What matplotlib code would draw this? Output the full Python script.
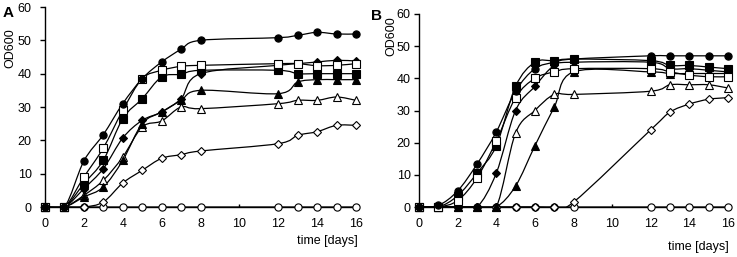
import numpy as np
import matplotlib
matplotlib.use("Agg")
import matplotlib.pyplot as plt
from matplotlib.path import Path
from matplotlib.patches import PathPatch

plt.rcParams['font.family'] = ['Liberation Sans', 'DejaVu Sans']

days = [0, 1, 2, 3, 4, 5, 6, 7, 8, 12, 13, 14, 15, 16]

# Panel A
A_filled_circle   = [0, 0, 13.8, 21.7, 31.0, 38.5, 43.5, 47.3, 50.0, 50.8, 51.5, 52.4, 51.9, 51.9]
A_open_square     = [0, 0, 9.0, 17.7, 29.0, 38.5, 41.0, 42.2, 42.5, 43.0, 43.0, 42.4, 42.5, 43.0]
A_filled_square   = [0, 0, 7.0, 14.0, 26.5, 32.5, 39.0, 39.8, 41.0, 41.0, 40.0, 40.0, 40.0, 40.0]
A_filled_diamond  = [0, 0, 5.5, 11.5, 20.7, 26.0, 28.5, 32.5, 40.0, 42.5, 43.0, 43.5, 44.0, 43.8]
A_filled_triangle = [0, 0, 3.0, 6.0, 14.0, 25.0, 28.5, 32.0, 35.0, 34.0, 37.5, 38.2, 38.2, 38.2]
A_open_triangle   = [0, 0, 3.5, 8.0, 15.0, 24.0, 25.8, 30.0, 29.5, 31.0, 32.0, 32.0, 33.0, 32.0]
A_open_diamond    = [0, 0, 0.0, 1.5, 7.2, 11.0, 14.6, 15.7, 16.8, 19.0, 21.5, 22.6, 24.5, 24.5]
A_open_circle     = [0, 0, 0, 0, 0, 0, 0, 0, 0, 0, 0, 0, 0, 0]

# Panel B
B_filled_circle   = [0, 0.5, 5.0, 13.3, 23.3, 36.0, 43.0, 45.0, 46.0, 47.0, 47.0, 47.0, 47.0, 47.0]
B_open_square     = [0, 0, 2.0, 9.0, 20.5, 34.0, 40.0, 42.0, 43.0, 43.0, 42.0, 41.0, 40.5, 40.5]
B_filled_square   = [0, 0, 3.5, 10.5, 19.0, 37.5, 45.0, 45.5, 46.0, 45.5, 44.0, 44.0, 43.5, 43.0]
B_filled_diamond  = [0, 0, 0, 0, 10.5, 30.0, 37.5, 44.0, 45.0, 45.0, 43.0, 43.0, 42.5, 42.0]
B_filled_triangle = [0, 0, 0, 0, 0, 6.5, 19.0, 31.0, 42.0, 42.0, 41.5, 41.5, 41.5, 41.5]
B_open_triangle   = [0, 0, 0, 0, 0, 23.0, 30.0, 35.0, 35.0, 36.0, 38.0, 38.0, 38.0, 37.0]
B_open_diamond    = [0, 0, 0, 0, 0, 0, 0, 0, 1.5, 24.0, 29.5, 32.0, 33.5, 34.0]
B_open_circle     = [0, 0, 0, 0, 0, 0, 0, 0, 0, 0, 0, 0, 0, 0]

x_ticks = [0, 2, 4, 6, 8, 10, 12, 14, 16]
y_ticks = [0, 10, 20, 30, 40, 50, 60]

styles = [  # (marker, filled)
    ('o', False),
    ('D', False),
    ('^', False),
    ('^', True),
    ('D', True),
    ('s', True),
    ('s', False),
    ('o', True),
]


def smooth_path(x, y):
    x = np.asarray(x, float)
    y = np.asarray(y, float)
    pts = np.column_stack([x, y])
    n = len(pts)
    verts = [pts[0]]
    codes = [Path.MOVETO]
    for i in range(n - 1):
        p0 = pts[i - 1] if i > 0 else pts[i]
        p1 = pts[i]
        p2 = pts[i + 1]
        p3 = pts[i + 2] if i + 2 < n else pts[i + 1]
        c1 = p1 + (p2 - p0) / 6.0
        c2 = p2 - (p3 - p1) / 6.0
        verts += [c1, c2, p2]
        codes += [Path.CURVE4] * 3
    return Path(verts, codes)


def draw_panel(ax, series, ypad):
    for (mk, filled), vals in zip(styles, series):
        ax.add_patch(PathPatch(smooth_path(days, vals), facecolor='none',
                               edgecolor='black', lw=0.9, zorder=2))
    for (mk, filled), vals in zip(styles, series):
        ms = 5.2 if mk != 'D' else 4.3
        ax.plot(days, vals, linestyle='none', marker=mk, markersize=ms,
                markerfacecolor='black' if filled else 'white',
                markeredgecolor='black', markeredgewidth=0.8, zorder=3,
                clip_on=False)
    ax.set_xlim(0, 16)
    ax.set_ylim(0, 60)
    ax.set_xticks(x_ticks)
    ax.set_yticks(y_ticks)
    for s in ('top', 'right'):
        ax.spines[s].set_visible(False)
    ax.spines['left'].set_linewidth(1.0)
    ax.spines['bottom'].set_linewidth(1.0)
    ax.tick_params(axis='y', direction='out', length=3.5, width=1.0, labelsize=9, pad=ypad)
    ax.tick_params(axis='x', direction='in', length=2.5, width=1.0, labelsize=9, pad=8)


fig = plt.figure(figsize=(7.37, 2.57), dpi=100)
W, H = 737.0, 257.0
axA = fig.add_axes([45 / W, 50 / H, 311 / W, 200 / H])
axB = fig.add_axes([419 / W, 50 / H, 309 / W, 193 / H])

draw_panel(axA, [A_open_circle, A_open_diamond, A_open_triangle, A_filled_triangle,
                 A_filled_diamond, A_filled_square, A_open_square, A_filled_circle], 6)
draw_panel(axB, [B_open_circle, B_open_diamond, B_open_triangle, B_filled_triangle,
                 B_filled_diamond, B_filled_square, B_open_square, B_filled_circle], 2.5)

fig.text(3 / W, 1 - 13 / H, 'A', fontsize=11, fontweight='bold', va='center', ha='left')
fig.text(371 / W, 1 - 16 / H, 'B', fontsize=11, fontweight='bold', va='center', ha='left')
fig.text(10 / W, 1 - 48 / H, 'OD600', rotation=90, fontsize=9, va='center', ha='center')
fig.text(391 / W, 1 - 36 / H, 'OD600', rotation=90, fontsize=9, va='center', ha='center')
fig.text(358 / W, 1 - 241 / H, 'time [days]', fontsize=9, va='center', ha='right')
fig.text(729 / W, 1 - 247 / H, 'time [days]', fontsize=9, va='center', ha='right')

fig.savefig('out.png', dpi=100)
